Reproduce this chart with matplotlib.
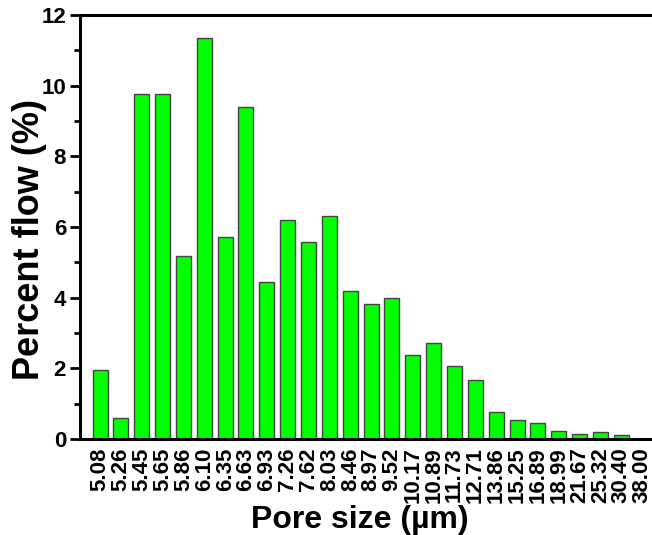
import matplotlib
matplotlib.use("Agg")
import matplotlib.pyplot as plt
from matplotlib.ticker import MultipleLocator

# pore size categories (um) and percent flow
pore_sizes = ["5.08", "5.26", "5.45", "5.65", "5.86", "6.10", "6.35", "6.63",
              "6.93", "7.26", "7.62", "8.03", "8.46", "8.97", "9.52", "10.17",
              "10.89", "11.73", "12.71", "13.86", "15.25", "16.89", "18.99",
              "21.67", "25.32", "30.40", "38.00"]
percent_flow = [1.95, 0.60, 9.76, 9.76, 5.19, 11.34, 5.72, 9.40,
                4.45, 6.19, 5.58, 6.30, 4.20, 3.82, 3.99, 2.38,
                2.73, 2.08, 1.67, 0.76, 0.55, 0.44, 0.22,
                0.14, 0.21, 0.11, 0.0]

plt.rcParams["font.family"] = ["Liberation Sans", "DejaVu Sans"]
plt.rcParams["font.weight"] = "bold"

fig = plt.figure(figsize=(6.52, 5.35), dpi=100)
ax = fig.add_axes([0.1227, 0.1794, 0.8773, 0.7926])

x = list(range(len(pore_sizes)))
ax.bar(x, percent_flow, width=0.72, color="#00ff00",
       edgecolor="#444444", linewidth=1.0)

ax.set_xlim(-0.96, 26.47)
ax.set_ylim(0, 12)
ax.set_xticks(x)
ax.set_xticklabels(pore_sizes, rotation=90, fontsize=16, fontweight="bold")
ax.tick_params(axis="x", length=0, pad=6)

ax.yaxis.set_major_locator(MultipleLocator(2))
ax.yaxis.set_minor_locator(MultipleLocator(1))
ax.tick_params(axis="y", which="major", direction="out", length=7, width=2,
               labelsize=16, pad=3)
ax.tick_params(axis="y", which="minor", direction="out", length=4, width=2)
for lab in ax.get_yticklabels():
    lab.set_fontweight("bold")

for side in ["left", "bottom", "top"]:
    ax.spines[side].set_linewidth(2.2)
ax.spines["right"].set_visible(False)

ax.set_xlabel("Pore size (µm)", fontsize=23, fontweight="bold", labelpad=1)
ax.set_ylabel("Percent flow (%)", fontsize=26, fontweight="bold")
ax.yaxis.set_label_coords(-0.058, 0.47)
ax.xaxis.label.set_x(0.49)

fig.savefig("out.png", dpi=100)
